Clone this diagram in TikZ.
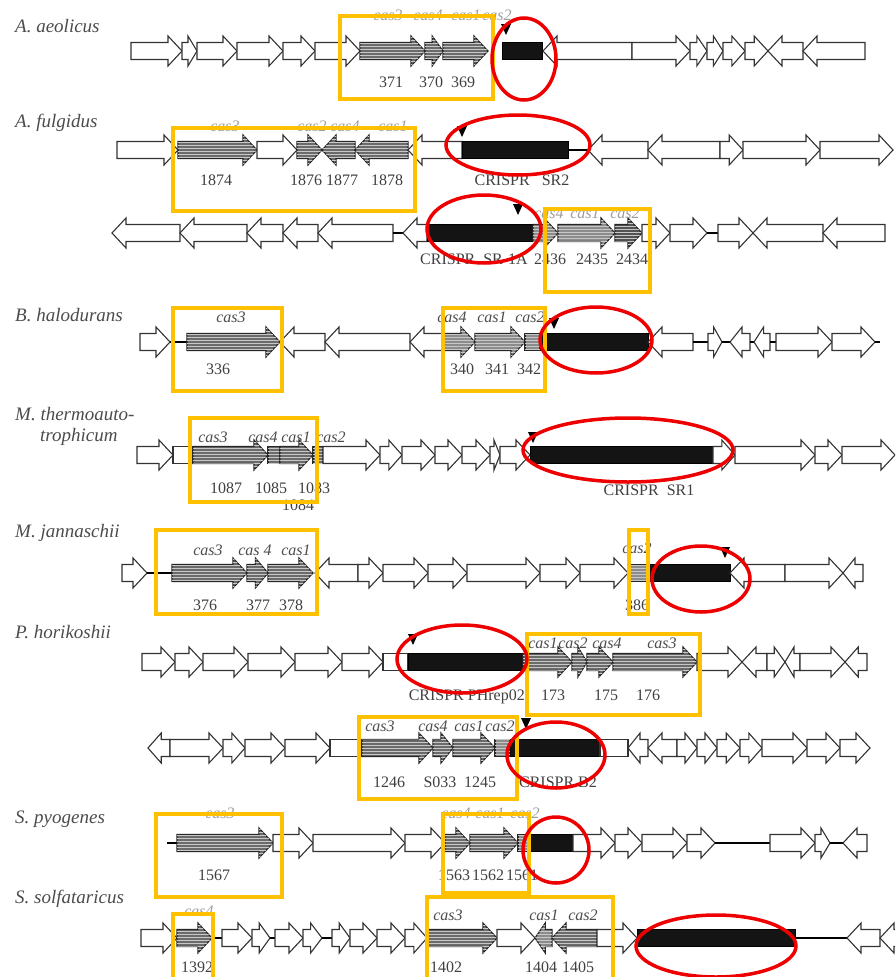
\documentclass[tikz,border=0pt]{standalone}
\usepackage{fontspec}
\setmainfont{Liberation Serif}
\usetikzlibrary{patterns}
\definecolor{ybox}{RGB}{255,192,0}
\definecolor{rell}{RGB}{238,0,0}
\tikzset{
 wg/.style={draw=black!80, line width=1.1pt, fill=white, line join=miter},
 cg/.style={draw=black!85, line width=1.1pt, fill=black!58, postaction={pattern=horizontal lines, pattern color=black!22}},
 cgl/.style={cg, fill=black!45},
 cgd/.style={cg, fill=black!68},
 crb/.style={fill=black!92, draw=black, line width=0.8pt},
 lnk/.style={draw=black, line width=2.6pt},
 yb/.style={draw=ybox, line width=3.2pt},
 re/.style={draw=rell, line width=3.5pt},
 sp/.style={font=\fontsize{19}{21}\selectfont\itshape, text=black!70, anchor=base west, inner sep=0},
 gn/.style={font=\fontsize{16}{18}\selectfont\itshape, text=black!70, anchor=base, inner sep=0},
 gnf/.style={gn, text=black!38},
 nm/.style={font=\fontsize{16}{18}\selectfont, text=black!75, anchor=base, inner sep=0},
}
\newcommand\gnR[4][wg]{\pgfmathsetmacro\gnHB{#3-min(14,0.6*(#3-#2))}\path[#1] (#2,#4-8.5) -- (\gnHB,#4-8.5) -- (\gnHB,#4-15) -- (#3,#4) -- (\gnHB,#4+15) -- (\gnHB,#4+8.5) -- (#2,#4+8.5) -- cycle;}
\newcommand\gnL[4][wg]{\pgfmathsetmacro\gnHB{#2+min(14,0.6*(#3-#2))}\path[#1] (#3,#4-8.5) -- (\gnHB,#4-8.5) -- (\gnHB,#4-15) -- (#2,#4) -- (\gnHB,#4+15) -- (\gnHB,#4+8.5) -- (#3,#4+8.5) -- cycle;}
\newcommand\gnB[4][wg]{\path[#1] (#2,#4-8.5) rectangle (#3,#4+8.5);}
\newcommand\gnK[3]{\path[crb] (#1,#3-8.5) rectangle (#2,#3+8.5);}
\newcommand\gnT[3]{\draw[lnk] (#1,#3) -- (#2,#3);}
\newcommand\gnM[2]{\fill (#1-5,#2-6) -- (#1+5,#2-6) -- (#1,#2+5) -- cycle;}
\begin{document}
\begin{tikzpicture}[x=1pt,y=-1pt]
\clip (0,0) rectangle (895,977);
\fill[white] (0,0) rectangle (895,977);
% species labels
\node[sp] (s1) at (15,32) {A. aeolicus};
\node[sp] (s2) at (15,127) {A. fulgidus};
\node[sp] (s3) at (15,321) {B. halodurans};
\node[sp] (s4) at (15,420) {M. thermoauto-};
\node[sp] (s4b) at (40,441) {trophicum};
\node[sp] (s5) at (15,537) {M. jannaschii};
\node[sp] (s6) at (15,638) {P. horikoshii};
\node[sp] (s7) at (15,823) {S. pyogenes};
\node[sp] (s8) at (15,903) {S. solfataricus};
% ---------- row 1
\gnR{131}{182}{51}\gnR{182}{197}{51}\gnR{197}{237}{51}\gnR{237}{283}{51}\gnR{283}{315}{51}\gnR{315}{360}{51}
\gnR[cg]{360}{425}{51}\gnR[cg]{425}{443}{51}\gnR[cg]{443}{488}{51}
\gnK{502}{542}{51}
\gnL{543}{632}{51}\gnR{632}{690}{51}\gnR{690}{707}{51}\gnR{707}{723}{51}\gnR{723}{745}{51}\gnR{745}{768}{51}
\gnL{768}{803}{51}\gnL{803}{865}{51}
\gnM{506}{30}
\node[gnf] (a1) at (388,20) {cas3};
\node[gnf] (a2) at (428,20) {cas4};
\node[gnf] (a3) at (466,20) {cas1};
\node[gnf] (a4) at (497,20) {cas2};
\node[nm] (a5) at (391,87) {371};
\node[nm] (a6) at (431,87) {370};
\node[nm] (a7) at (463,87) {369};
% ---------- row 2
\gnR{117}{178}{150}\gnR[cg]{178}{257}{150}\gnR{257}{297}{150}\gnR[cg]{297}{322}{150}
\gnL[cg]{322}{355}{150}\gnL[cg]{355}{408}{150}\gnL{408}{462}{150}
\gnK{462}{568}{150}\gnT{568}{588}{150}
\gnL{588}{648}{150}\gnL{648}{720}{150}\gnR{720}{743}{150}\gnR{743}{820}{150}\gnR{820}{893}{150}
\gnM{462}{132}
\node[gnf] (b1) at (225,131) {cas3};
\node[gnf] (b2) at (312,131) {cas2};
\node[gnf] (b3) at (345,131) {cas4};
\node[gnf] (b4) at (393,131) {cas1};
\node[nm] (b5) at (216,185) {1874};
\node[nm] (b6) at (306,185) {1876};
\node[nm] (b7) at (342,185) {1877};
\node[nm] (b8) at (387,185) {1878};
\node[nm] (b9) at (522,185) {CRISPR\ \ \ SR2};
% ---------- row 3
\gnL{112}{180}{233}\gnL{180}{247}{233}\gnL{247}{283}{233}\gnL{283}{318}{233}\gnL{318}{393}{233}
\gnT{393}{403}{233}\gnL{403}{427}{233}
\gnK{427}{533}{233}
\gnR[cgl]{533}{558}{233}\gnR[cgl]{558}{615}{233}\gnR[cgd]{615}{642}{233}
\gnR{642}{670}{233}\gnR{670}{707}{233}\gnT{707}{718}{233}\gnR{718}{753}{233}\gnL{753}{823}{233}\gnL{823}{885}{233}
\gnM{518}{210}
\node[gnf] (c1) at (549,218) {cas4};
\node[gnf] (c2) at (585,218) {cas1};
\node[gnf] (c3) at (625,218) {cas2};
\node[nm,anchor=base east] (c4) at (528,264) {CRISPR\ \ SR-1A};
\node[nm] (c5) at (550,264) {2436};
\node[nm] (c6) at (592,264) {2435};
\node[nm] (c7) at (632,264) {2434};
% ---------- row 4
\gnR{140}{170}{342}\gnT{170}{187}{342}\gnR[cg]{187}{280}{342}
\gnL{280}{325}{342}\gnL{325}{410}{342}\gnL{410}{443}{342}
\gnR[cgl]{443}{475}{342}\gnR[cgl]{475}{525}{342}\gnB[cgl]{525}{540}{342}
\gnK{540}{648}{342}
\gnL{648}{693}{342}\gnT{693}{708}{342}\gnR{708}{722}{342}\gnT{722}{730}{342}\gnL{730}{750}{342}
\gnT{750}{754}{342}\gnL{754}{770}{342}\gnT{770}{776}{342}\gnR{776}{832}{342}\gnR{832}{875}{342}\gnT{875}{880}{342}
\gnM{554}{324}
\node[gn] (d1) at (231,322) {cas3};
\node[nm] (d2) at (218,374) {336};
\node[gn] (d3) at (452,322) {cas4};
\node[gn] (d4) at (492,322) {cas1};
\node[gn] (d5) at (530,322) {cas2};
\node[nm] (d6) at (462,374) {340};
\node[nm] (d7) at (497,374) {341};
\node[nm] (d8) at (529,374) {342};
% ---------- row 5
\gnR{137}{173}{455}\gnB{173}{193}{455}
\gnR[cg]{193}{268}{455}\gnB[cg]{268}{280}{455}\gnR[cg]{280}{313}{455}\gnB[cg]{313}{323}{455}
\gnR{323}{380}{455}\gnR{380}{402}{455}\gnR{402}{435}{455}\gnR{435}{462}{455}\gnR{462}{490}{455}\gnR{490}{500}{455}\gnR{500}{530}{455}
\gnK{530}{713}{455}
\gnR{713}{735}{455}\gnR{735}{815}{455}\gnR{815}{842}{455}\gnR{842}{895}{455}
\gnM{533}{438}
\node[gn] (e1) at (213,442) {cas3};
\node[gn] (e2) at (263,442) {cas4};
\node[gn] (e3) at (296,442) {cas1};
\node[gn] (e4) at (331,442) {cas2};
\node[nm] (e5) at (226,493) {1087};
\node[nm] (e6) at (271,493) {1085};
\node[nm] (e7) at (314,493) {1083};
\node[nm] (e8) at (298,510) {1084};
\node[nm] (e9) at (649,495) {CRISPR\ \ SR1};
% ---------- row 6
\gnR{122}{147}{573}\gnT{147}{172}{573}
\gnR[cg]{172}{247}{573}\gnR[cg]{247}{268}{573}\gnR[cg]{268}{313}{573}
\gnL{315}{358}{573}\gnR{358}{383}{573}\gnR{383}{428}{573}\gnR{428}{467}{573}\gnR{467}{540}{573}\gnR{540}{580}{573}\gnR{580}{628}{573}
\gnB[cgl]{628}{647}{573}
\gnK{647}{730}{573}
\gnL{730}{785}{573}\gnR{785}{843}{573}\gnL{843}{863}{573}
\gnM{725}{553}
\node[gn] (f1) at (208,555) {cas3};
\node[gn] (f2) at (255,555) {cas 4};
\node[gn] (f3) at (296,555) {cas1};
\node[nm] (f4) at (205,610) {376};
\node[nm] (f5) at (258,610) {377};
\node[nm] (f6) at (291,610) {378};
\node[gn] (f7) at (637,553) {cas2};
\node[nm] (f8) at (637,610) {386};
% ---------- row 7
\gnR{142}{175}{662}\gnR{175}{203}{662}\gnR{203}{248}{662}\gnR{248}{295}{662}\gnR{295}{342}{662}\gnR{342}{383}{662}\gnB{383}{408}{662}
\gnK{408}{523}{662}
\gnR[cg]{523}{572}{662}\gnR[cg]{572}{587}{662}\gnR[cg]{587}{613}{662}\gnR[cg]{613}{697}{662}
\gnR{697}{742}{662}\gnL{742}{767}{662}\gnR{767}{785}{662}\gnL{785}{800}{662}\gnR{800}{845}{662}\gnL{845}{867}{662}
\gnM{413}{640}
\node[nm,anchor=base east] (g1) at (525,700) {CRISPR PHrep02};
\node[gn] (g2) at (543,648) {cas1};
\node[gn] (g3) at (573,648) {cas2};
\node[gn] (g4) at (607,648) {cas4};
\node[gn] (g5) at (662,648) {cas3};
\node[nm] (g6) at (553,700) {173};
\node[nm] (g7) at (606,700) {175};
\node[nm] (g8) at (648,700) {176};
% ---------- row 8
\gnL{148}{170}{748}\gnR{170}{223}{748}\gnR{223}{245}{748}\gnR{245}{285}{748}\gnR{285}{330}{748}\gnB{330}{362}{748}
\gnR[cg]{362}{433}{748}\gnR[cg]{433}{453}{748}\gnR[cg]{453}{495}{748}\gnB[cgl]{495}{510}{748}
\gnK{510}{600}{748}
\gnB{600}{628}{748}\gnL{628}{648}{748}\gnL{648}{677}{748}\gnR{677}{697}{748}\gnR{697}{717}{748}\gnR{717}{740}{748}\gnR{740}{762}{748}\gnR{762}{807}{748}\gnR{807}{840}{748}\gnR{840}{870}{748}
\gnM{526}{724}
\node[gn] (h1) at (380,731) {cas3};
\node[gn] (h2) at (433,731) {cas4};
\node[gn] (h3) at (469,731) {cas1};
\node[gn] (h4) at (500,731) {cas2};
\node[nm] (h5) at (389,787) {1246};
\node[nm] (h6) at (440,787) {S033};
\node[nm] (h7) at (480,787) {1245};
\node[nm] (h8) at (558,787) {CRISPR B2};
% ---------- row 9
\gnT{167}{177}{843}\gnR[cg]{177}{273}{843}\gnR{273}{313}{843}\gnR{313}{405}{843}\gnR{405}{445}{843}
\gnR[cg]{445}{470}{843}\gnR[cg]{470}{518}{843}\gnB[cgl]{518}{530}{843}
\gnK{530}{573}{843}
\gnR{573}{615}{843}\gnR{615}{642}{843}\gnR{642}{687}{843}\gnR{687}{715}{843}\gnT{715}{770}{843}\gnR{770}{815}{843}\gnR{815}{830}{843}\gnT{830}{843}{843}\gnL{843}{867}{843}
\node[gnf] (i1) at (220,818) {cas3};
\node[gnf] (i2) at (456,818) {cas4};
\node[gnf] (i3) at (490,818) {cas1};
\node[gnf] (i4) at (525,818) {cas2};
\node[nm] (i5) at (214,880) {1567};
\node[nm] (i6) at (454,880) {1563};
\node[nm] (i7) at (488,880) {1562};
\node[nm] (i8) at (522,880) {1561};
% ---------- row 10
\gnR{141}{177}{938}\gnR[cg]{177}{212}{938}\gnT{212}{222}{938}\gnR{222}{252}{938}\gnR{252}{270}{938}\gnT{270}{275}{938}
\gnR{275}{303}{938}\gnR{303}{322}{938}\gnT{322}{332}{938}\gnR{332}{350}{938}\gnR{350}{377}{938}\gnR{377}{405}{938}\gnR{405}{427}{938}
\gnR[cg]{427}{497}{938}\gnR{497}{535}{938}\gnL[cgl]{535}{552}{938}\gnL[cg]{552}{597}{938}\gnR{597}{637}{938}
\gnK{637}{795}{938}\gnT{795}{847}{938}\gnL{847}{880}{938}\gnL{880}{905}{938}
\node[gnf] (j1) at (199,916) {cas4};
\node[gn] (j2) at (448,920) {cas3};
\node[gn] (j3) at (544,920) {cas1};
\node[gn] (j4) at (583,920) {cas2};
\node[nm] (j5) at (197,972) {1392};
\node[nm] (j6) at (446,972) {1402};
\node[nm] (j7) at (541,972) {1404};
\node[nm] (j8) at (578,972) {1405};
% ---------- highlight boxes
\draw[yb] (340,16) rectangle (493,99);
\draw[yb] (173,128) rectangle (415,211);
\draw[yb] (545,209) rectangle (650,292);
\draw[yb] (173,308) rectangle (282,391);
\draw[yb] (443,308) rectangle (545,391);
\draw[yb] (190,418) rectangle (317,502);
\draw[yb] (156,530) rectangle (317,614);
\draw[yb] (629,530) rectangle (648,614);
\draw[yb] (527,634) rectangle (700,715);
\draw[yb] (359,717) rectangle (517,799);
\draw[yb] (156,814) rectangle (282,897);
\draw[yb] (443,814) rectangle (529,893);
\draw[yb] (173,914) rectangle (213,990);
\draw[yb] (427,897) rectangle (613,990);
% ---------- highlight ellipses
\draw[re] (524,59) ellipse [x radius=32, y radius=41];
\draw[re] (518,145) ellipse [x radius=72, y radius=30];
\draw[re] (484,229) ellipse [x radius=57, y radius=34];
\draw[re] (596,340) ellipse [x radius=56, y radius=33];
\draw[re] (628,450) ellipse [x radius=105, y radius=32];
\draw[re] (701,579) ellipse [x radius=49, y radius=33];
\draw[re] (462,659) ellipse [x radius=65, y radius=34];
\draw[re] (556,755) ellipse [x radius=49, y radius=33];
\draw[re] (556,850) ellipse [x radius=33, y radius=33];
\draw[re] (716,946) ellipse [x radius=80, y radius=31];
\end{tikzpicture}
\end{document}
